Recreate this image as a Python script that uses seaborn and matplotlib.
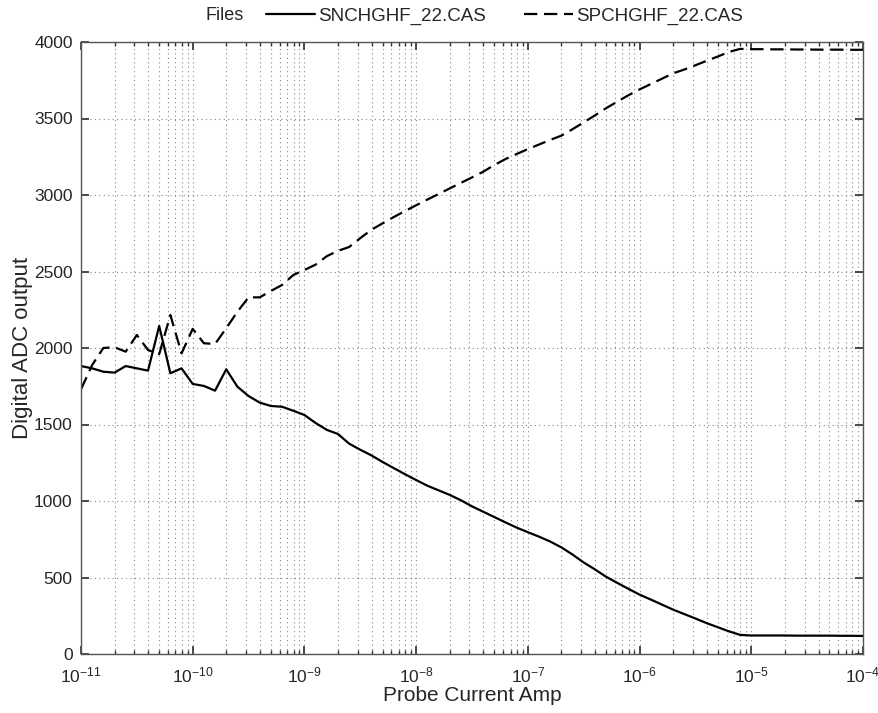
import numpy as np
import pandas as pd
import matplotlib
matplotlib.use("Agg")
import matplotlib.pyplot as plt
import seaborn as sns
from matplotlib.ticker import LogLocator, FixedLocator

# ---- data ----
log_current = [-11.0, -10.9, -10.8, -10.7, -10.6, -10.5, -10.4, -10.3, -10.2, -10.1,
               -10.0, -9.9, -9.8, -9.7, -9.6, -9.5, -9.4, -9.3, -9.2, -9.1,
               -9.0, -8.9, -8.8, -8.7, -8.6, -8.5, -8.4, -8.3, -8.2, -8.1,
               -8.0, -7.9, -7.8, -7.7, -7.6, -7.5, -7.4, -7.3, -7.2, -7.1,
               -7.0, -6.9, -6.8, -6.7, -6.6, -6.5, -6.4, -6.3, -6.2, -6.1,
               -6.0, -5.9, -5.8, -5.7, -5.6, -5.5, -5.4, -5.3, -5.2, -5.1,
               -5.0, -4.9, -4.8, -4.7, -4.6, -4.5, -4.4, -4.3, -4.2, -4.1,
               -4.0]

sn_adc = [1882, 1867, 1845, 1839, 1882, 1867, 1852, 2144, 1835, 1867,
          1765, 1752, 1721, 1861, 1747, 1686, 1643, 1621, 1616, 1590,
          1562, 1510, 1465, 1438, 1375, 1335, 1298, 1255, 1215, 1175,
          1137, 1100, 1070, 1040, 1005, 965, 930, 895, 860, 826,
          796, 767, 735, 697, 650, 598, 553, 505, 465, 426,
          388, 356, 323, 290, 261, 232, 202, 175, 148, 125,
          121, 121, 121, 121, 120, 120, 120, 120, 119, 119,
          118]

sp_adc = [1730, 1889, 2000, 2005, 1976, 2085, 1987, 1960, 2216, 1965,
          2125, 2031, 2026, 2129, 2237, 2331, 2331, 2373, 2412, 2477,
          2510, 2545, 2600, 2635, 2660, 2718, 2773, 2815, 2856, 2895,
          2933, 2970, 3006, 3043, 3079, 3115, 3152, 3196, 3235, 3268,
          3300, 3330, 3360, 3388, 3430, 3475, 3520, 3567, 3610, 3652,
          3690, 3725, 3760, 3795, 3820, 3848, 3877, 3905, 3935, 3955,
          3953, 3953, 3952, 3952, 3951, 3951, 3950, 3950, 3950, 3949,
          3949]

file_names = ["SNCHGHF_22.CAS", "SPCHGHF_22.CAS"]
x_tick_exps = [-11, -10, -9, -8, -7, -6, -5, -4]
y_ticks = [0, 500, 1000, 1500, 2000, 2500, 3000, 3500, 4000]

current = [10.0 ** e for e in log_current]
df = pd.DataFrame({
    "current": current * 2,
    "adc": sn_adc + sp_adc,
    "file": [file_names[0]] * len(sn_adc) + [file_names[1]] * len(sp_adc),
})

# ---- style ----
sns.set_theme(style="white")
plt.rcParams["font.family"] = ["Liberation Sans", "DejaVu Sans"]
plt.rcParams["mathtext.fontset"] = "custom"
plt.rcParams["mathtext.rm"] = "Liberation Sans"
plt.rcParams["mathtext.it"] = "Liberation Sans"
plt.rcParams["mathtext.bf"] = "Liberation Sans"

fig = plt.figure(figsize=(8.79, 7.13), dpi=100)
ax = fig.add_axes([81 / 879, 59 / 713, 782 / 879, 612 / 713])

sns.lineplot(data=df, x="current", y="adc", hue="file", style="file",
             palette=["black", "black"],
             dashes={file_names[0]: "", file_names[1]: (6, 3)},
             linewidth=1.6, ax=ax, legend=True)

ax.set_xscale("log")
ax.set_xlim(1e-11, 1e-4)
ax.set_ylim(0, 4000)
ax.xaxis.set_major_locator(FixedLocator([10.0 ** e for e in x_tick_exps]))
ax.set_xticklabels([r"$10^{%d}$" % e for e in x_tick_exps])
ax.xaxis.set_minor_locator(LogLocator(base=10, subs=np.arange(2, 10), numticks=100))
ax.set_yticks(y_ticks)
ax.set_yticklabels([str(v) for v in y_ticks])

ax.grid(True, which="major", axis="both", linestyle=(0, (1, 3)), color="#888888", linewidth=0.8)
ax.grid(True, which="minor", axis="x", linestyle=(0, (1, 3)), color="#888888", linewidth=0.8)

ax.tick_params(axis="both", which="both", direction="in", top=True, right=True,
               bottom=True, left=True, color="#333333")
ax.tick_params(axis="both", which="major", length=6, labelsize=12.5)
ax.tick_params(axis="y", which="major", pad=6)
ax.tick_params(axis="x", which="major", pad=8)
ax.tick_params(axis="x", which="minor", length=3)
for s in ax.spines.values():
    s.set_color("#555555")
    s.set_linewidth(1.0)
    s.set_visible(True)

ax.set_xlabel("Probe Current Amp", fontsize=15, labelpad=1)
ax.set_ylabel("Digital ADC output", fontsize=16, labelpad=1)

# legend across the top
handles, labels = ax.get_legend_handles_labels()
ax.legend(handles, labels, ncol=2, frameon=False, loc="center left",
          bbox_to_anchor=(266 / 879, 1 - 16 / 713), bbox_transform=fig.transFigure,
          fontsize=13.5, handlelength=2.6, handletextpad=0.2, columnspacing=2.0,
          borderaxespad=0, borderpad=0)
fig.text(225 / 879, 1 - 15 / 713, "Files", fontsize=13, ha="center", va="center")

fig.savefig("out.png", dpi=100, facecolor="white")
